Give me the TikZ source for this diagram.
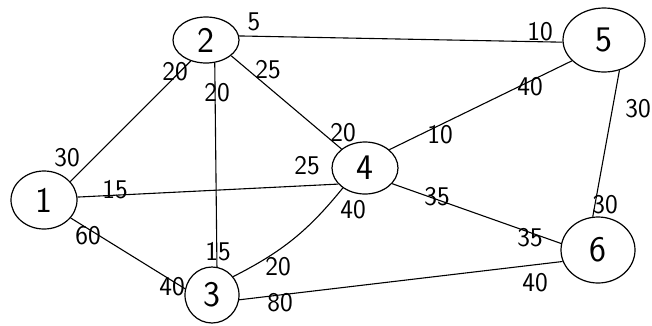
\documentclass[tikz,border=0pt]{standalone}
\usetikzlibrary{shapes.geometric}
\begin{document}
\begin{tikzpicture}[x=1pt,y=-1pt,
  vtx/.style={draw,ellipse,line width=1.2pt,inner sep=0pt,font=\sffamily\fontsize{36}{36}\selectfont},
  edge/.style={line width=1.1pt},
  wt/.style={font=\sffamily\fontsize{27}{27}\selectfont,inner sep=0pt}]
\useasboundingbox (0,0) rectangle (652,325);
% vertices
\node[vtx,minimum width=66pt,minimum height=58pt] (n1) at (44,200) {1};
\node[vtx,minimum width=66pt,minimum height=46pt] (n2) at (206,40) {2};
\node[vtx,minimum width=54pt,minimum height=56pt] (n3) at (212,295) {3};
\node[vtx,minimum width=66pt,minimum height=52pt] (n4) at (365,168) {4};
\node[vtx,minimum width=82pt,minimum height=64pt] (n5) at (604,40) {5};
\node[vtx,minimum width=74pt,minimum height=66pt] (n6) at (598,250) {6};
% edges
\draw[edge] (n1.35) -- (n2.234);
\draw[edge] (n1.5) -- (n4.211);
\draw[edge] (n1.326) -- (n3.167);
\draw[edge] (n2.7) -- (n5.183);
\draw[edge] (n2.328) -- (n4.141);
\draw[edge] (n2.291) -- (n3.80);
\draw[edge] (n3.41) to[bend right=12] (n4.222);
\draw[edge] (n3.350) -- (n6.198);
\draw[edge] (n4.37) -- (n5.213);
\draw[edge] (n4.330) -- (n6.170);
\draw[edge] (n5.297) -- (n6.99);
% weights
\node[wt] (w12a) at (67,158) {30};
\node[wt] (w12b) at (175,72) {20};
\node[wt] (w14a) at (115,190) {15};
\node[wt] (w14b) at (307,166) {25};
\node[wt] (w13a) at (88,236) {60};
\node[wt] (w13b) at (172,287) {40};
\node[wt] (w25a) at (254,22) {5};
\node[wt] (w25b) at (540,32) {10};
\node[wt] (w24a) at (268,70) {25};
\node[wt] (w24b) at (343,133) {20};
\node[wt] (w23a) at (217,93) {20};
\node[wt] (w23b) at (218,252) {15};
\node[wt] (w34a) at (278,267) {20};
\node[wt] (w34b) at (353,210) {40};
\node[wt] (w36a) at (280,303) {80};
\node[wt] (w36b) at (535,283) {40};
\node[wt] (w45a) at (440,135) {10};
\node[wt] (w45b) at (530,87) {40};
\node[wt] (w46a) at (437,197) {35};
\node[wt] (w46b) at (530,238) {35};
\node[wt] (w56a) at (638,109) {30};
\node[wt] (w56b) at (605,205) {30};
\end{tikzpicture}
\end{document}
